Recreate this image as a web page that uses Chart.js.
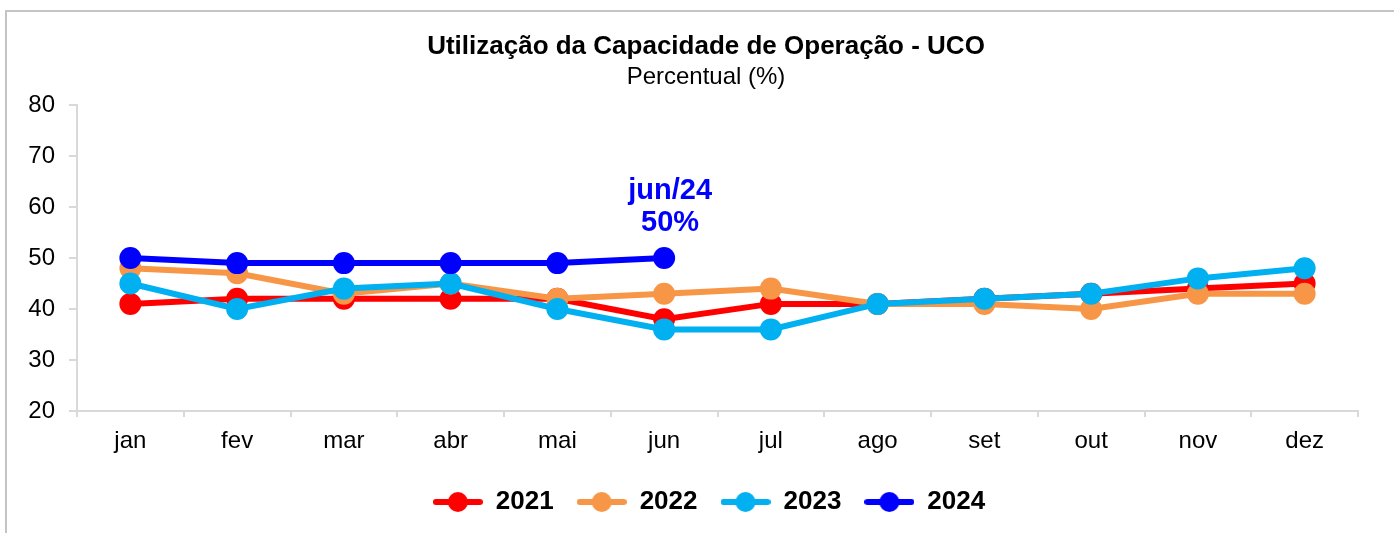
<!DOCTYPE html>
<html><head><meta charset="utf-8">
<script src="https://cdn.jsdelivr.net/npm/chart.js@4/dist/chart.umd.min.js"></script>
<style>
html,body{margin:0;padding:0;background:#fff;}
#wrap{position:relative;width:1394px;height:533px;overflow:hidden;}
#frame{position:absolute;left:5px;top:10px;width:1500px;height:600px;border:2px solid #c4c4c4;box-sizing:border-box;}
canvas{position:absolute;left:0;top:0;}
</style></head>
<body>
<div id="wrap"><div id="frame"></div><canvas id="c" width="1394" height="533"></canvas></div>
<script>
const categories = ['jan','fev','mar','abr','mai','jun','jul','ago','set','out','nov','dez'];
const s2021 = [41,42,42,42,42,38,41,41,42,43,44,45];
const s2022 = [48,47,43,45,42,43,44,41,41,40,43,43];
const s2023 = [45,40,44,45,40,36,36,41,42,43,46,48];
const s2024 = [50,49,49,49,49,50];
const yTicks = [20,30,40,50,60,70,80];
const titleText = 'Utilização da Capacidade de Operação - UCO';
const subtitleText = 'Percentual (%)';
const annotationLines = ['jun/24','50%'];

const colors = {'2021':'#ff0000','2022':'#f79646','2023':'#00b0f0','2024':'#0000ff'};
const FONT = "'Liberation Sans', Arial, sans-serif";

function legendIcon(color){
  const cv = document.createElement('canvas');
  cv.width = 50; cv.height = 22;
  const g = cv.getContext('2d');
  g.strokeStyle = color; g.lineWidth = 6; g.lineCap = 'round';
  g.beginPath(); g.moveTo(3,11); g.lineTo(47,11); g.stroke();
  g.fillStyle = color; g.beginPath(); g.arc(25,11,10,0,Math.PI*2); g.fill();
  return cv;
}

function ds(label, data, order){
  return {label, data, order, borderColor:colors[label], backgroundColor:colors[label],
    borderWidth:6, pointRadius:11, pointHoverRadius:11, pointBorderWidth:0,
    tension:0, fill:false};
}

const annot = {
  id:'annot',
  afterDatasetsDraw(chart){
    const idx = chart.data.datasets.findIndex(d => d.label === '2024');
    const meta = chart.getDatasetMeta(idx);
    const pt = meta.data[5];
    const ctx = chart.ctx;
    ctx.save();
    ctx.fillStyle = '#0000ff';
    ctx.font = "bold 29px " + FONT;
    ctx.textAlign = 'center';
    ctx.textBaseline = 'middle';
    ctx.fillText(annotationLines[0], pt.x + 6, pt.y - 67);
    ctx.fillText(annotationLines[1], pt.x + 6, pt.y - 35);
    ctx.restore();
  }
};

const titles = {
  id:'titles',
  afterLayout(chart){
    const l = chart.legend;
    if (l) { l.left += 30; l.right += 30; }
  },
  afterDraw(chart){
    const ctx = chart.ctx;
    const cx = chart.width/2 + 9;
    ctx.save();
    ctx.fillStyle = '#000';
    ctx.textAlign = 'center';
    ctx.textBaseline = 'middle';
    ctx.font = "bold 26px " + FONT;
    ctx.fillText(titleText, cx, 47);
    ctx.font = "24px " + FONT;
    ctx.fillText(subtitleText, cx, 77);
    ctx.restore();
  }
};

new Chart(document.getElementById('c'), {
  type:'line',
  data:{labels:categories, datasets:[ds('2021',s2021,3),ds('2022',s2022,2),ds('2023',s2023,1),ds('2024',s2024,0)]},
  options:{
    responsive:false, animation:false,
    layout:{padding:{left:0,right:36,top:105,bottom:8}},
    plugins:{
      title:{display:false},
      legend:{position:'bottom',
        labels:{usePointStyle:true, pointStyleWidth:50, color:'#000', font:{family:FONT,size:26,weight:'bold'}, padding:23,
          generateLabels(chart){
            return chart.data.datasets.map((d,i)=>({text:d.label, pointStyle:legendIcon(d.borderColor),
              fillStyle:d.borderColor, strokeStyle:d.borderColor, lineWidth:0, datasetIndex:i, hidden:false, fontColor:'#000'}));
          }}},
      tooltip:{enabled:false}
    },
    scales:{
      x:{offset:true,
        grid:{display:true, drawOnChartArea:false, offset:true, color:'#d9d9d9', tickLength:6, lineWidth:2},
        border:{display:true, color:'#d9d9d9', width:2},
        ticks:{color:'#000', font:{family:FONT,size:24}, padding:10},
        afterFit(s){ s.height = 55; }
      },
      y:{min:20, max:80,
        afterBuildTicks(s){ s.ticks = yTicks.map(v=>({value:v})); },
        grid:{display:true, drawOnChartArea:false, color:'#d9d9d9', tickLength:8, lineWidth:2},
        border:{display:true, color:'#d9d9d9', width:2},
        ticks:{color:'#000', font:{family:FONT,size:24}, padding:14},
        afterFit(s){ s.width = 77; }
      }
    }
  },
  plugins:[annot, titles]
});
</script>
</body></html>
